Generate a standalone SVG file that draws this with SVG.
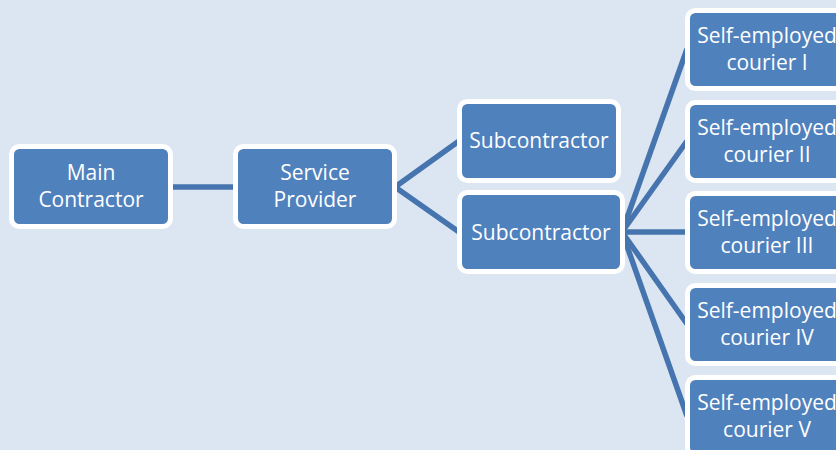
<svg xmlns="http://www.w3.org/2000/svg" width="836" height="450" viewBox="0 0 836 450">
<style>
.box{fill:#4f81bd;stroke:#ffffff;stroke-width:5}
.t{font-family:"Open Sans","Noto Sans",sans-serif;font-size:21px;fill:#ffffff;text-anchor:middle}
.c{stroke:#4674ae;stroke-width:5.5;fill:none}
</style>
<rect x="0" y="0" width="836" height="450" fill="#dce6f2"/>
<g id="connectors">
<line class="c" x1="170" y1="187" x2="237" y2="187"/>
<polyline class="c" points="459,141 395,187 459,232"/>
<line class="c" x1="622" y1="232" x2="687" y2="49"/>
<line class="c" x1="622" y1="232" x2="687" y2="141"/>
<line class="c" x1="622" y1="232" x2="687" y2="232"/>
<line class="c" x1="622" y1="232" x2="687" y2="324"/>
<line class="c" x1="622" y1="232" x2="687" y2="416"/>
</g>
<g id="main-contractor">
<rect class="box" x="11.5" y="146.5" width="159" height="80" rx="8"/>
<text class="t" x="91" y="180">Main</text>
<text class="t" x="91" y="207">Contractor</text>
</g>
<g id="service-provider">
<rect class="box" x="235.5" y="146.5" width="159" height="80" rx="8"/>
<text class="t" x="315" y="180">Service</text>
<text class="t" x="315" y="207">Provider</text>
</g>
<g id="subcontractor-1">
<rect class="box" x="459.5" y="101.5" width="159" height="79" rx="8"/>
<text class="t" x="539" y="148">Subcontractor</text>
</g>
<g id="subcontractor-2">
<rect class="box" x="459.5" y="192.5" width="163" height="79" rx="8"/>
<text class="t" x="541" y="240">Subcontractor</text>
</g>
<g id="courier-1">
<rect class="box" x="687.5" y="10.5" width="163" height="78" rx="8"/>
<text class="t" x="767" y="43">Self-employed</text>
<text class="t" x="767" y="70">courier I</text>
</g>
<g id="courier-2">
<rect class="box" x="687.5" y="102.5" width="163" height="78" rx="8"/>
<text class="t" x="767" y="135">Self-employed</text>
<text class="t" x="767" y="162">courier II</text>
</g>
<g id="courier-3">
<rect class="box" x="687.5" y="193.5" width="163" height="78" rx="8"/>
<text class="t" x="767" y="226">Self-employed</text>
<text class="t" x="767" y="253">courier III</text>
</g>
<g id="courier-4">
<rect class="box" x="687.5" y="285.5" width="163" height="78" rx="8"/>
<text class="t" x="767" y="318">Self-employed</text>
<text class="t" x="767" y="345">courier IV</text>
</g>
<g id="courier-5">
<rect class="box" x="687.5" y="377.5" width="163" height="78" rx="8"/>
<text class="t" x="767" y="410">Self-employed</text>
<text class="t" x="767" y="437">courier V</text>
</g>
</svg>
